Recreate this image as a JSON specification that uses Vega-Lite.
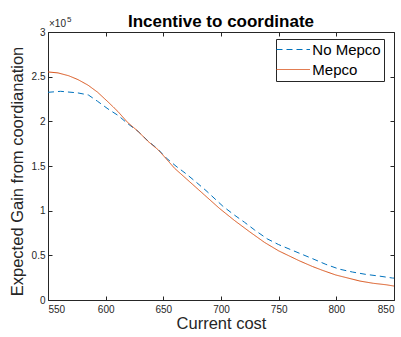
{
  "$schema": "https://vega.github.io/schema/vega-lite/v6.json",
  "width": 346,
  "height": 268,
  "autosize": {"type": "none"},
  "padding": {"left": 48, "top": 32, "right": 7, "bottom": 37},
  "background": "white",
  "config": {
    "font": "Liberation Sans",
    "view": {"stroke": null},
    "axis": {"grid": false, "domainColor": "#262626", "tickColor": "#262626", "labelColor": "#262626", "titleColor": "#262626", "labelFont": "Liberation Sans", "titleFont": "Liberation Sans", "labelFontSize": 10, "titleFontSize": 16.5, "titleFontWeight": "normal", "tickSize": -4, "domainWidth": 1, "tickWidth": 1}
  },
  "title": {"text": "Incentive to coordinate", "font": "Liberation Sans", "fontSize": 17, "fontWeight": "bold", "color": "black", "anchor": "middle", "baseline": "alphabetic", "offset": 7, "dy": 35},
  "data": {"values": [
    {"series": "No Mepco", "cost": 550, "gain": 232500},
    {"series": "No Mepco", "cost": 561, "gain": 233600},
    {"series": "No Mepco", "cost": 576, "gain": 231800},
    {"series": "No Mepco", "cost": 585, "gain": 229500},
    {"series": "No Mepco", "cost": 593, "gain": 222400},
    {"series": "No Mepco", "cost": 602, "gain": 213900},
    {"series": "No Mepco", "cost": 611, "gain": 206400},
    {"series": "No Mepco", "cost": 619, "gain": 197500},
    {"series": "No Mepco", "cost": 628, "gain": 188900},
    {"series": "No Mepco", "cost": 637, "gain": 177700},
    {"series": "No Mepco", "cost": 645, "gain": 169200},
    {"series": "No Mepco", "cost": 652.5, "gain": 159000},
    {"series": "No Mepco", "cost": 661, "gain": 149800},
    {"series": "No Mepco", "cost": 670, "gain": 141000},
    {"series": "No Mepco", "cost": 678.5, "gain": 131900},
    {"series": "No Mepco", "cost": 687, "gain": 122500},
    {"series": "No Mepco", "cost": 701.6, "gain": 105000},
    {"series": "No Mepco", "cost": 711.7, "gain": 95000},
    {"series": "No Mepco", "cost": 720.4, "gain": 87000},
    {"series": "No Mepco", "cost": 729, "gain": 78500},
    {"series": "No Mepco", "cost": 740, "gain": 68500},
    {"series": "No Mepco", "cost": 750, "gain": 62000},
    {"series": "No Mepco", "cost": 767.7, "gain": 52500},
    {"series": "No Mepco", "cost": 779.3, "gain": 46300},
    {"series": "No Mepco", "cost": 790.9, "gain": 39900},
    {"series": "No Mepco", "cost": 802.4, "gain": 34600},
    {"series": "No Mepco", "cost": 814, "gain": 31300},
    {"series": "No Mepco", "cost": 825.5, "gain": 28700},
    {"series": "No Mepco", "cost": 837, "gain": 26800},
    {"series": "No Mepco", "cost": 848.6, "gain": 24600},
    {"series": "No Mepco", "cost": 850, "gain": 24500},
    {"series": "Mepco", "cost": 550, "gain": 255300},
    {"series": "Mepco", "cost": 558.7, "gain": 254200},
    {"series": "Mepco", "cost": 568, "gain": 251000},
    {"series": "Mepco", "cost": 576, "gain": 246700},
    {"series": "Mepco", "cost": 584.7, "gain": 240500},
    {"series": "Mepco", "cost": 593, "gain": 232600},
    {"series": "Mepco", "cost": 602, "gain": 221800},
    {"series": "Mepco", "cost": 610.6, "gain": 211000},
    {"series": "Mepco", "cost": 619, "gain": 198800},
    {"series": "Mepco", "cost": 628, "gain": 188900},
    {"series": "Mepco", "cost": 636.6, "gain": 177700},
    {"series": "Mepco", "cost": 645.3, "gain": 168400},
    {"series": "Mepco", "cost": 650.5, "gain": 161000},
    {"series": "Mepco", "cost": 659.7, "gain": 147500},
    {"series": "Mepco", "cost": 672.7, "gain": 132500},
    {"series": "Mepco", "cost": 685.7, "gain": 117500},
    {"series": "Mepco", "cost": 698.7, "gain": 102500},
    {"series": "Mepco", "cost": 711.7, "gain": 89000},
    {"series": "Mepco", "cost": 724.7, "gain": 76500},
    {"series": "Mepco", "cost": 737.7, "gain": 64500},
    {"series": "Mepco", "cost": 750, "gain": 55000},
    {"series": "Mepco", "cost": 767.7, "gain": 44000},
    {"series": "Mepco", "cost": 779.3, "gain": 37500},
    {"series": "Mepco", "cost": 788, "gain": 33200},
    {"series": "Mepco", "cost": 799.5, "gain": 28000},
    {"series": "Mepco", "cost": 820.5, "gain": 21200},
    {"series": "Mepco", "cost": 832, "gain": 18700},
    {"series": "Mepco", "cost": 843.5, "gain": 17000},
    {"series": "Mepco", "cost": 850, "gain": 15600}
  ]},
  "layer": [
    {
      "layer": [
        {
          "mark": {"type": "line", "strokeWidth": 1, "clip": true},
          "encoding": {
            "x": {"field": "cost", "type": "quantitative", "scale": {"domain": [550, 850], "nice": false, "zero": false},
                  "axis": {"orient": "bottom", "values": [550, 600, 650, 700, 750, 800, 850], "title": "Current cost", "labelPadding": 8, "titleBaseline": "alphabetic", "titleY": 28.6}},
            "y": {"field": "gain", "type": "quantitative", "scale": {"domain": [0, 300000], "nice": false, "zero": false},
                  "axis": {"orient": "left", "values": [0, 50000, 100000, 150000, 200000, 250000, 300000], "labelExpr": "datum.value / 100000", "labelPadding": 7, "title": "Expected Gain from coordianation", "titleBaseline": "alphabetic", "titleX": -25.8, "titleY": 139, "titleAlign": "center"}},
            "color": {"field": "series", "type": "nominal", "scale": {"domain": ["No Mepco", "Mepco"], "range": ["#0072BD", "#D95319"]},
                      "legend": {"title": null, "orient": "none", "legendX": 228, "legendY": 7, "padding": 3, "strokeColor": "#262626", "fillColor": "white", "labelFontSize": 15, "labelColor": "black", "labelFont": "Liberation Sans", "symbolType": "M-1.82,0L4.27,0", "symbolSize": 121, "symbolStrokeWidth": 1, "labelOffset": 18.3, "rowPadding": 4}},
            "strokeDash": {"field": "series", "type": "nominal", "scale": {"domain": ["No Mepco", "Mepco"], "range": [[6, 4], [1, 0]]}, "legend": {"title": null}}
          }
        },
        {
          "data": {"values": [{}]},
          "mark": {"type": "text", "text": "×10", "align": "left", "baseline": "alphabetic", "fontSize": 10, "dx": 1, "dy": -5, "color": "#262626", "font": "Liberation Sans"},
          "encoding": {
            "x": {"datum": 550, "type": "quantitative"},
            "y": {"datum": 300000, "type": "quantitative"}
          }
        },
        {
          "data": {"values": [{}]},
          "mark": {"type": "text", "text": "5", "align": "left", "baseline": "alphabetic", "fontSize": 8, "dx": 19, "dy": -10, "color": "#262626", "font": "Liberation Sans"},
          "encoding": {
            "x": {"datum": 550, "type": "quantitative"},
            "y": {"datum": 300000, "type": "quantitative"}
          }
        }
      ]
    },
    {
      "mark": {"type": "point", "opacity": 0},
      "encoding": {
        "x": {"field": "cost", "type": "quantitative", "scale": {"domain": [550, 850], "nice": false, "zero": false},
              "axis": {"orient": "top", "values": [550, 600, 650, 700, 750, 800, 850], "labels": false, "title": null}},
        "y": {"field": "gain", "type": "quantitative", "scale": {"domain": [0, 300000], "nice": false, "zero": false},
              "axis": {"orient": "right", "values": [0, 50000, 100000, 150000, 200000, 250000, 300000], "labels": false, "title": null}}
      }
    }
  ],
  "resolve": {"scale": {"x": "independent", "y": "independent"}}
}
